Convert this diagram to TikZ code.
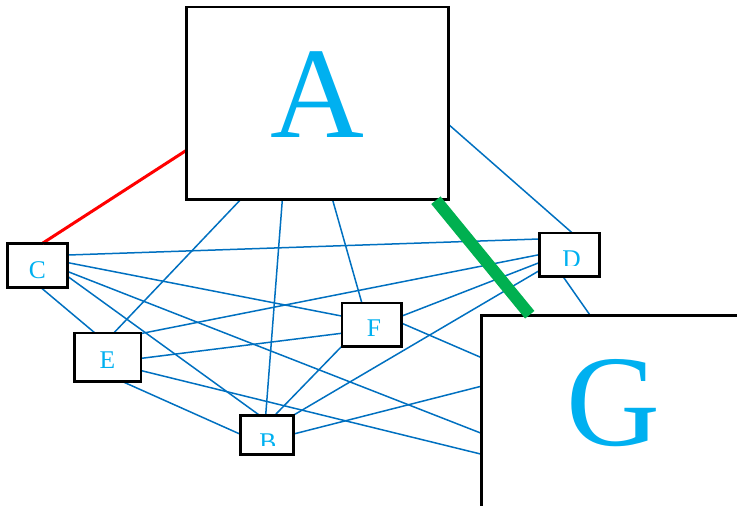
\documentclass[tikz,border=0pt]{standalone}
\usepackage{fontspec}
\setmainfont{Liberation Serif}
\definecolor{linkblue}{HTML}{0070C0}
\definecolor{labelcyan}{HTML}{00B0F0}
\definecolor{hotred}{HTML}{FF0000}
\definecolor{bandgreen}{HTML}{00B050}

\begin{document}
\begin{tikzpicture}[x=1pt,y=-1pt,
  box/.style={draw=black,line width=1.8pt,rectangle,inner sep=0pt},
  tag/.style={text=labelcyan,font=\fontsize{25.5}{25.5}\selectfont,inner sep=0pt,anchor=base},
  bigtag/.style={text=labelcyan,font=\fontsize{130}{130}\selectfont,inner sep=0pt,anchor=base},
  link/.style={draw=linkblue,line width=1.5pt},
  redlink/.style={draw=hotred,line width=3pt},
  greenlink/.style={draw=bandgreen,line width=12pt,line cap=butt},
]
\path[use as bounding box,clip] (0,0) rectangle (737,506);

% boxes (empty frames, labels are set separately)
\path
  node[box,minimum width=261.6pt,minimum height=192pt] (A) at (317.5,103.3) {}
  node[box,minimum width=59pt,minimum height=43.3pt]   (C) at (37.7,265.7) {}
  node[box,minimum width=59.3pt,minimum height=42.7pt] (D) at (569.7,254.7) {}
  node[box,minimum width=65.7pt,minimum height=47.7pt] (E) at (107.8,357.2) {}
  node[box,minimum width=58.7pt,minimum height=42.4pt] (F) at (371.7,324.5) {}
  node[box,minimum width=52pt,minimum height=38pt]     (B) at (266.7,435) {}
  node[box,minimum width=318.3pt,minimum height=284.3pt] (G) at (640.8,457.8) {};

% blue connectors
\draw[link] ([yshift=-21.7pt]A.east) -- ([xshift=2pt]D.north);
\draw[link] ([xshift=-77.5pt]A.south) -- ([xshift=6.5pt]E.north);
\draw[link] ([xshift=-35.2pt]A.south) -- ([xshift=-1pt]B.north);
\draw[link] ([xshift=15.2pt]A.south) -- ([xshift=-10pt]F.north);
\draw[link] ([yshift=10.7pt]C.east) -- ([yshift=15.7pt]D.west);
\draw[link] ([yshift=3pt]C.east) -- ([yshift=8.5pt]F.west);
\draw[link] ([yshift=-6pt]C.east) -- ([yshift=-118.3pt]G.north west);
\draw[link] ([yshift=-11pt]C.east) -- ([xshift=-7.4pt]B.north);
\draw[link] ([xshift=4pt]C.south) -- ([xshift=-13.5pt]E.north);
\draw[link] ([yshift=-1pt]E.north east) -- (D.west);
\draw[link] ([yshift=-1.1pt]E.east) -- ([yshift=-8.8pt]F.west);
\draw[link] ([yshift=-13.5pt]E.east) -- ([yshift=-139.3pt]G.north west);
\draw[link] ([xshift=15.5pt]E.south) -- ([yshift=1pt]B.west);
\draw[link] (F.south west) -- ([xshift=8.3pt]B.north);
\draw[link] ([yshift=-16pt]D.west) -- (B.north east);
\draw[link] ([yshift=-8pt]D.west) -- ([yshift=8.5pt]F.east);
\draw[link] ([yshift=1.2pt]F.east) -- ([yshift=-42.6pt]G.north west);
\draw[link] ([yshift=1pt]B.east) -- ([yshift=-71.6pt]G.north west);
\draw[link] ([xshift=-6.4pt]D.south) -- ([xshift=109pt]G.north west);

% red connector
\draw[redlink] ([yshift=-47.4pt]A.west) -- ([xshift=5pt]C.north);

% frames on top of the connectors
\foreach \n in {A,B,C,D,E,F,G} \draw[black,line width=1.8pt] (\n.north west) rectangle (\n.south east);

% thick green connector
\draw[greenlink] ([xshift=-13.3pt]A.south east) -- ([xshift=49pt]G.north west);

% labels
\node[bigtag] (Atext) at (317.5,137) {A};
\node[bigtag] (Gtext) at (613.5,445.5) {G};
\node[tag] (Ctext) at (37.5,278.3) {C};
\node[tag] (Etext) at (107.5,368) {E};
\node[tag] (Ftext) at (374,336) {F};
\begin{scope}
  \clip (240,416) rectangle (293,445);
  \node[tag] (Btext) at (268,450) {B};
\end{scope}
\begin{scope}
  \clip (540,233) rectangle (600,265);
  \node[tag] (Dtext) at (571.7,267) {D};
\end{scope}
\end{tikzpicture}
\end{document}
